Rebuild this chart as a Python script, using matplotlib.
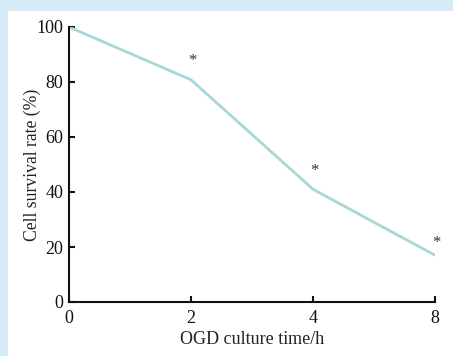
import matplotlib.pyplot as plt
from matplotlib.patches import Rectangle

# values
time_labels = ['0', '2', '4', '8']
survival = [100, 80.8, 41, 17]
marks = ['', '*', '*', '*']

plt.rcParams['font.family'] = ['Liberation Serif', 'DejaVu Serif']

fig = plt.figure(figsize=(4.53, 3.56), dpi=100)
fig.patch.set_facecolor('#d5ebf8')
# white panel inside the blue frame
fig.patches.append(Rectangle((8 / 453, 0), 1 - 8 / 453, 345 / 356,
                             transform=fig.transFigure, facecolor='white',
                             edgecolor='none', zorder=-1))

ax = fig.add_axes([69 / 453, 54 / 356, 366 / 453, 275 / 356])
ax.set_zorder(1)
ax.set_facecolor('none')

x = list(range(len(time_labels)))
ax.plot(x, survival, color='#a9d6d6', linewidth=2, solid_joinstyle='round')

offsets = [0, 19, 18, 12]
for xi, yi, m, off in zip(x, survival, marks, offsets):
    if m:
        ax.annotate(m, (xi, yi), xytext=(1, off), textcoords='offset pixels',
                    ha='center', va='center', fontsize=12, color='#333333')

ax.set_xlim(0, 3)
ax.set_ylim(0, 100)
ax.set_xticks(x)
ax.set_xticklabels(time_labels)
ax.set_yticks([0, 20, 40, 60, 80, 100])

for s in ['top', 'right']:
    ax.spines[s].set_visible(False)
for s in ['left', 'bottom']:
    ax.spines[s].set_linewidth(1.5)
    ax.spines[s].set_color('#111111')

ax.tick_params(direction='in', length=4, width=1.5, labelsize=13,
               colors='#111111')
ax.tick_params(axis='x', pad=6)
ax.tick_params(axis='y', pad=4)
ax.set_xlabel('OGD culture time/h', fontsize=13, labelpad=3, color='#222222')
ax.set_ylabel('Cell survival rate (%)', fontsize=12.7, labelpad=-3, color='#222222')

fig.savefig('out.png', dpi=100, facecolor=fig.get_facecolor())
